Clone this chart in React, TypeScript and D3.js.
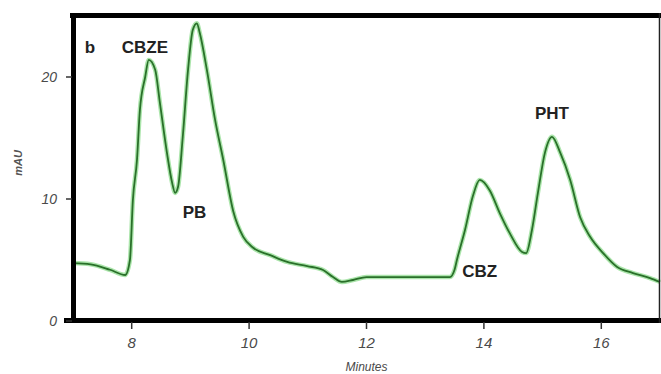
import React from 'react';
import * as d3 from 'd3';

// chromatogram trace
const minutes = [
  7.0, 7.3, 7.63, 7.89, 7.97, 8.02, 8.09, 8.14, 8.23, 8.29, 8.4, 8.48, 8.6, 8.69, 8.74, 8.79,
  8.87, 8.96, 9.04, 9.11, 9.16, 9.28, 9.42, 9.56, 9.73, 9.9, 10.07, 10.36, 10.65, 10.99, 11.26,
  11.43, 11.58, 11.77, 12.0, 13.42, 13.5, 13.54, 13.68, 13.81, 13.93, 14.1, 14.27, 14.44, 14.65,
  14.72, 14.82, 14.92, 15.04, 15.16, 15.3, 15.47, 15.64, 15.81, 16.03, 16.27, 16.54, 16.83, 17.0,
];
const mau = [
  4.75, 4.65, 4.2, 3.77, 5.0, 9.9, 13.2, 17.3, 20.0, 21.4, 20.6, 17.9, 13.8, 11.3, 10.5, 11.0,
  15.1, 20.6, 23.85, 24.4, 23.6, 20.6, 16.5, 13.2, 9.0, 6.9, 6.0, 5.4, 4.84, 4.5, 4.18,
  3.6, 3.2, 3.36, 3.6, 3.6, 4.2, 5.0, 7.5, 10.2, 11.56, 10.7, 8.85, 7.2, 5.66,
  5.57, 7.5, 10.5, 13.8, 15.1, 13.8, 11.56, 8.5, 6.9, 5.57, 4.43, 3.93, 3.52, 3.2,
];

const xTicks = [8, 10, 12, 14, 16];
const yTicks = [0, 10, 20];

const peakLabels = ['b', 'CBZE', 'PB', 'PHT', 'CBZ'];
const peakLabelMin = [7.2, 7.83, 8.87, 14.87, 13.63];
const peakLabelMau = [22.0, 22.0, 8.44, 16.56, 3.6];

const width = 661;
const height = 374;

const App: React.FC = () => {
  const x = d3.scaleLinear().domain([7, 17]).range([73, 660]);
  const y = d3.scaleLinear().domain([0, 25]).range([321, 16]);

  const pts = minutes.map((m, i) => [m, mau[i]] as [number, number]);
  const line = d3.line<[number, number]>()
    .x(d => x(d[0]))
    .y(d => y(d[1]))
    .curve(d3.curveMonotoneX);
  const path = line(pts) || '';

  const font = '"Liberation Sans", Arial, sans-serif';

  return (
    <svg width={width} height={height} style={{ position: 'absolute', left: 0, top: 0, background: '#fff' }}>
      {/* trace: soft halo + dark stroke */}
      <path d={path} fill="none" stroke="#8fdc8f" strokeWidth={4.5} strokeOpacity={0.75} />
      <path d={path} fill="none" stroke="#2a702a" strokeWidth={1.8} />

      {/* frame */}
      <line x1={70} x2={661} y1={15.5} y2={15.5} stroke="#000" strokeWidth={5} />
      <line x1={73.5} x2={73.5} y1={13} y2={323} stroke="#000" strokeWidth={5} />
      <line x1={64} x2={661} y1={320.5} y2={320.5} stroke="#000" strokeWidth={5} />
      <line x1={659.5} x2={659.5} y1={13} y2={323} stroke="#222" strokeWidth={1.5} />

      {/* x axis */}
      {xTicks.map(t => (
        <g key={'x' + t}>
          <line x1={x(t)} x2={x(t)} y1={322} y2={329} stroke="#333" strokeWidth={1.5} />
          <text x={x(t)} y={348} textAnchor="middle" fontFamily={font} fontStyle="italic"
            fontSize={15} fill="#4a4a4a">{t}</text>
        </g>
      ))}
      <text x={x(12)} y={371} textAnchor="middle" fontFamily={font} fontStyle="italic"
        fontSize={12} fill="#4a4a4a">Minutes</text>

      {/* y axis */}
      {yTicks.map(t => (
        <g key={'y' + t}>
          <line x1={66} x2={72} y1={y(t)} y2={y(t)} stroke="#333" strokeWidth={1.5} />
          <text x={57} y={y(t) + 5} textAnchor="end" fontFamily={font} fontStyle="italic"
            fontSize={14} fill="#4a4a4a">{t}</text>
        </g>
      ))}
      <text transform="translate(22,163) rotate(-90)" textAnchor="middle" fontFamily={font}
        fontWeight="bold" fontStyle="italic" fontSize={11} fill="#555">mAU</text>

      {/* peak names */}
      {peakLabels.map((s, i) => (
        <text key={s} x={x(peakLabelMin[i])} y={y(peakLabelMau[i])} fontFamily={font}
          fontWeight="bold" fontSize={17} fill="#222">{s}</text>
      ))}
    </svg>
  );
};

export default App;
